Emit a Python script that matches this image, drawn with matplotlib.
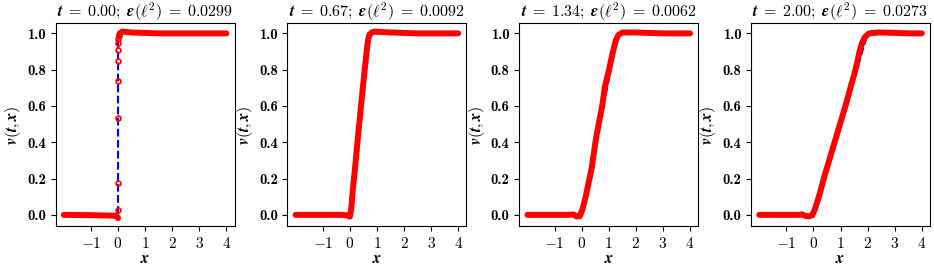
import matplotlib
matplotlib.use("Agg")
import matplotlib.pyplot as plt

plt.rcParams['mathtext.fontset'] = 'cm'
plt.rcParams['font.family'] = 'serif'
plt.rcParams['font.serif'] = ['cmr10']
plt.rcParams['axes.unicode_minus'] = False

# snapshot times and l2 errors
times = [0.00, 0.67, 1.34, 2.00]
errors = [0.0299, 0.0092, 0.0062, 0.0273]

# exact solution (blue dashed)
exact_x = [[-2.0, 0.0, 0.0, 4.0],
           [-2.0, 0.0, 0.67, 4.0],
           [-2.0, 0.0, 1.34, 4.0],
           [-2.0, 0.0, 2.00, 4.0]]
exact_v = [[0.0, 0.0, 1.0, 1.0],
           [0.0, 0.0, 1.0, 1.0],
           [0.0, 0.0, 1.0, 1.0],
           [0.0, 0.0, 1.0, 1.0]]

# network prediction (red), pieces of the dense point band
pred_x = [
    [[-2.0, -1.0, -0.3, -0.05, 0.0],
     [0.03, 0.06, 0.15, 0.5, 1.5, 4.0]],
    [[-2.0, -1.0, -0.3, -0.1, 0.0, 0.05, 0.1, 0.2, 0.3, 0.4, 0.5, 0.6, 0.67, 0.72, 0.8, 0.9, 1.5, 2.5, 4.0]],
    [[-2.0, -0.5, -0.3, -0.2, -0.07, 0.03, 0.15, 0.36, 0.54, 0.77, 0.85, 1.01, 1.14, 1.26, 1.35, 1.5, 2.0, 3.0, 4.0]],
    [[-2.0, -1.0, -0.55, -0.4, -0.3, -0.15, -0.05, 0.05, 0.2, 0.4, 0.6, 0.8, 1.0, 1.2, 1.4, 1.5, 1.6, 1.7, 1.8, 1.9, 2.05, 2.4, 3.0, 3.5, 4.0]],
]
pred_v = [
    [[0.0, -0.002, -0.004, -0.005, -0.018],
     [0.98, 1.0, 1.01, 1.005, 1.0, 1.0]],
    [[0.0, 0.0, 0.0, -0.003, -0.01, 0.03, 0.12, 0.27, 0.43, 0.58, 0.73, 0.87, 0.96, 0.99, 1.005, 1.01, 1.005, 1.0, 1.0]],
    [[0.0, 0.0, 0.002, -0.008, -0.008, 0.03, 0.1, 0.25, 0.43, 0.61, 0.7, 0.8, 0.89, 0.96, 0.99, 1.005, 1.005, 1.0, 1.0]],
    [[0.0, 0.0, 0.0, 0.002, -0.006, -0.008, -0.003, 0.03, 0.1, 0.21, 0.31, 0.41, 0.51, 0.61, 0.72, 0.77, 0.83, 0.9, 0.95, 0.98, 1.0, 1.005, 1.003, 1.0, 1.0]],
]

# isolated prediction points on the t=0 jump
jump_x = [0.0, 0.0, 0.0, 0.0, 0.0, 0.005, 0.01, 0.015, 0.02]
jump_v = [0.026, 0.175, 0.531, 0.738, 0.847, 0.908, 0.948, 0.967, 0.985]

xticks = [-1, 0, 1, 2, 3, 4]
xticklabels = [r'$-1$', r'$0$', r'$1$', r'$2$', r'$3$', r'$4$']
yticks = [0.0, 0.2, 0.4, 0.6, 0.8, 1.0]
yticklabels = ['0.0', '0.2', '0.4', '0.6', '0.8', '1.0']

fig, axes = plt.subplots(1, 4, figsize=(9.34, 2.66), dpi=100)
fig.subplots_adjust(left=0.0596, right=0.9957, bottom=0.150, top=0.912, wspace=0.296)

for k, ax in enumerate(axes):
    ax.plot(exact_x[k], exact_v[k], 'b--', lw=1.5, zorder=2)
    for px, pv in zip(pred_x[k], pred_v[k]):
        ax.plot(px, pv, color='red', lw=4.3, solid_capstyle='round',
                solid_joinstyle='round', zorder=3)
    if k == 0:
        ax.plot(jump_x, jump_v, 'o', mfc='none', mec='red', ms=3.5, mew=1.2, zorder=4)
    ax.set_xlim(-2.3, 4.3)
    ax.set_ylim(-0.062, 1.055)
    ax.set_xticks(xticks)
    ax.set_xticklabels(xticklabels, fontsize=11)
    ax.set_yticks(yticks)
    ax.set_yticklabels(yticklabels, fontsize=10.5, fontfamily='cmb10')
    ax.set_xlabel(r'$\boldsymbol{x}$', fontsize=11.5, labelpad=1)
    ax.set_ylabel(r'$\boldsymbol{v(t,x)}$', fontsize=11.5, labelpad=3)
    title = (r'$\boldsymbol{t}\;\mathbf{=}\;\mathbf{%.2f;}\;'
             r'\boldsymbol{\epsilon(\ell^{2})}\;=\;%.4f$' % (times[k], errors[k]))
    ax.set_title(title, fontsize=11.5, pad=5)

fig.savefig('out.png', dpi=100)
